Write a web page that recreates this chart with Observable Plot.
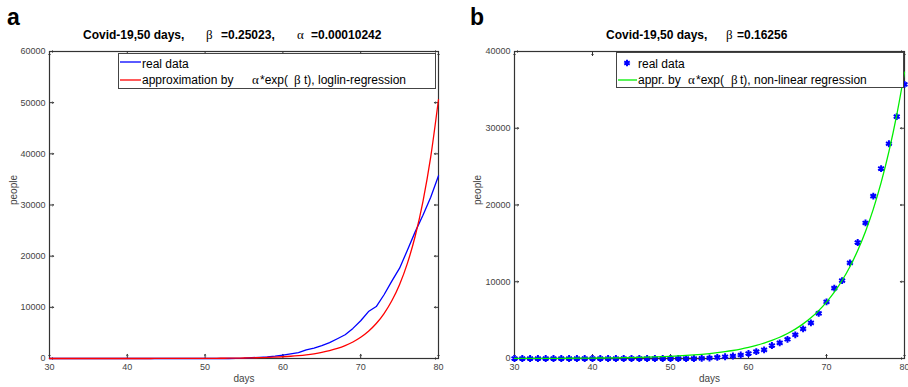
<!DOCTYPE html>
<html>
<head>
<meta charset="utf-8">
<script src="https://cdn.jsdelivr.net/npm/d3@7"></script>
<script src="https://cdn.jsdelivr.net/npm/@observablehq/plot@0.6"></script>
<style>
  html, body { margin: 0; padding: 0; background: #fff; }
  #wrap { position: relative; width: 908px; height: 387px; overflow: hidden; }
  #wrap > svg { position: absolute; top: 0; }
</style>
</head>
<body>
<div id="wrap"></div>
<script>
// ---- data ----
const days = [30,31,32,33,34,35,36,37,38,39,40,41,42,43,44,45,46,47,48,49,50,51,52,53,54,55,56,57,58,59,60,61,62,63,64,65,66,67,68,69,70,71,72,73,74,75,76,77,78,79,80];
const realData = [0,0,0,2,2,2,2,2,2,3,3,3,3,3,3,3,3,3,3,3,3,3,3,3,20,62,155,229,322,453,655,888,1128,1694,2036,2502,3089,3858,4636,5883,7375,9172,10149,12462,15113,17660,21157,24747,27980,31506,35713];
const loglinFit = [0.19,0.24,0.31,0.40,0.51,0.66,0.85,1.09,1.4,1.8,2.3,2.9,3.8,4.9,6.2,8.0,10.3,13.2,17,22,28,36,46,59,76,97,125,160,206,264,339,436,560,719,923,1186,1523,1956,2513,3227,4144,5323,6836,8780,11277,14483,18601,23890,30683,39407,50612];
const nonlinFit = [11,13,15,18,21,25,29,34,40,48,56,66,78,91,107,126,149,175,205,242,284,335,394,463,545,641,754,887,1044,1228,1445,1700,2000,2353,2768,3257,3832,4508,5304,6240,7342,8638,10162,11956,14066,16548,19469,22905,26948,31704,37300];
const xTicks = [30,40,50,60,70,80];
const yTicksA = [0,10000,20000,30000,40000,50000,60000];
const yTicksB = [0,10000,20000,30000,40000];

const real = days.map((d, i) => ({day: d, v: realData[i]}));
const fitA = days.map((d, i) => ({day: d, v: loglinFit[i]}));
const fitB = days.map((d, i) => ({day: d, v: nonlinFit[i]}));

const FONT = '"Liberation Sans", Arial, Helvetica, sans-serif';
const TICK = "#333";

function panel({yMax, yTicks, marginLeft, marginRight, labelDx, data}) {
  return Plot.plot({
    width: 454, height: 387,
    marginTop: 51, marginBottom: 29, marginLeft, marginRight,
    style: {fontFamily: FONT, fontSize: "9px", color: "#444", background: "transparent", overflow: "visible"},
    x: {domain: [30, 80]},
    y: {domain: [0, yMax]},
    marks: [
      Plot.frame({stroke: "#333", strokeWidth: 1.2}),
      Plot.axisX(xTicks, {anchor: "bottom", tickSize: 0, tickPadding: 5, tickFormat: d3.format("d"), label: null}),
      Plot.axisY(yTicks, {anchor: "left", tickSize: 0, tickPadding: 4, tickFormat: d3.format("d"), label: null}),
      // inward ticks on all four sides
      Plot.vector(xTicks, {x: d => d, frameAnchor: "bottom", rotate: 0, anchor: "start", length: 4, stroke: TICK, strokeWidth: 1}),
      Plot.vector(xTicks, {x: d => d, frameAnchor: "top", rotate: 180, anchor: "start", length: 4, stroke: TICK, strokeWidth: 1}),
      Plot.vector(yTicks, {y: d => d, frameAnchor: "left", rotate: 90, anchor: "start", length: 4, stroke: TICK, strokeWidth: 1}),
      Plot.vector(yTicks, {y: d => d, frameAnchor: "right", rotate: -90, anchor: "start", length: 4, stroke: TICK, strokeWidth: 1}),
      Plot.text(["days"], {frameAnchor: "bottom", dy: 23, fontSize: 10, fill: "#444"}),
      Plot.text(["people"], {frameAnchor: "left", dx: labelDx, rotate: -90, fontSize: 10, fill: "#444"}),
      ...data
    ]
  });
}

const left = panel({
  yMax: 60000, yTicks: yTicksA, marginLeft: 49, marginRight: 16, labelDx: -36,
  data: [
    Plot.line(real, {x: "day", y: "v", stroke: "#0000ff", strokeWidth: 1.3}),
    Plot.line(fitA, {x: "day", y: "v", stroke: "#ff0000", strokeWidth: 1.3, curve: "monotone-x"})
  ]
});
const right = panel({
  yMax: 40000, yTicks: yTicksB, marginLeft: 60, marginRight: 4, labelDx: -37,
  data: [
    Plot.dot(real, {x: "day", y: "v", symbol: "asterisk", r: 3.2, stroke: "#0000ff", strokeWidth: 2}),
    Plot.line(fitB, {x: "day", y: "v", stroke: "#00ee00", strokeWidth: 1.3, curve: "monotone-x"})
  ]
});

const wrap = document.getElementById("wrap");
left.style.left = "0px";
right.style.left = "454px";
wrap.appendChild(left);
wrap.appendChild(right);

// ---- overlay: panel letters, titles, legends ----
const ov = d3.select(wrap).append("svg")
  .attr("width", 908).attr("height", 387)
  .style("left", "0px").style("top", "0px").style("position", "absolute");

function txt(x, y, s, opts = {}) {
  return ov.append("text").attr("x", x).attr("y", y).text(s)
    .attr("font-family", opts.serif ? '"Liberation Serif", "Times New Roman", serif' : FONT)
    .attr("font-size", opts.size || 12)
    .attr("font-weight", opts.bold ? "bold" : "normal")
    .attr("fill", opts.fill || "#000")
    .attr("text-anchor", opts.anchor || "start");
}

// panel letters
txt(7, 25, "a", {size: 23, bold: true});
txt(470, 25, "b", {size: 23, bold: true});

// titles
txt(83, 39, "Covid-19,50 days,", {bold: true});
txt(206, 39, "β", {serif: true, size: 13});
txt(221, 39, "=0.25023,", {bold: true});
txt(297, 39, "α", {serif: true, size: 13});
txt(311, 39, "=0.00010242", {bold: true});

txt(606, 39, "Covid-19,50 days,", {bold: true});
txt(726, 39, "β", {serif: true, size: 13});
txt(737, 39, "=0.16256", {bold: true});

// legend a
ov.append("rect").attr("x", 118.5).attr("y", 53.5).attr("width", 317).attr("height", 35)
  .attr("fill", "#fff").attr("stroke", "#444").attr("stroke-width", 1);
ov.append("line").attr("x1", 120).attr("x2", 141).attr("y1", 62).attr("y2", 62).attr("stroke", "#0000ff").attr("stroke-width", 1.3);
ov.append("line").attr("x1", 120).attr("x2", 141).attr("y1", 80).attr("y2", 80).attr("stroke", "#ff0000").attr("stroke-width", 1.3);
txt(142, 68, "real data");
txt(142, 84, "approximation by");
txt(252, 84, "α", {serif: true, size: 13});
txt(260, 84, "*exp(");
txt(294, 84, "β", {serif: true, size: 13});
txt(304, 84, "t), loglin-regression");

// legend b
ov.append("rect").attr("x", 616.5).attr("y", 52.5).attr("width", 287).attr("height", 35)
  .attr("fill", "#fff").attr("stroke", "#444").attr("stroke-width", 1);
ov.append("path").attr("d", d3.symbol(d3.symbolAsterisk, 28)()).attr("transform", "translate(627,63)")
  .attr("stroke", "#0000ff").attr("stroke-width", 2).attr("fill", "none");
ov.append("line").attr("x1", 618).attr("x2", 637).attr("y1", 80).attr("y2", 80).attr("stroke", "#00ee00").attr("stroke-width", 1.3);
txt(638, 68, "real data");
txt(638, 84, "appr. by");
txt(688, 84, "α", {serif: true, size: 13});
txt(696, 84, "*exp(");
txt(731, 84, "β", {serif: true, size: 13});
txt(740, 84, "t), non-linear regression");
</script>
</body>
</html>
